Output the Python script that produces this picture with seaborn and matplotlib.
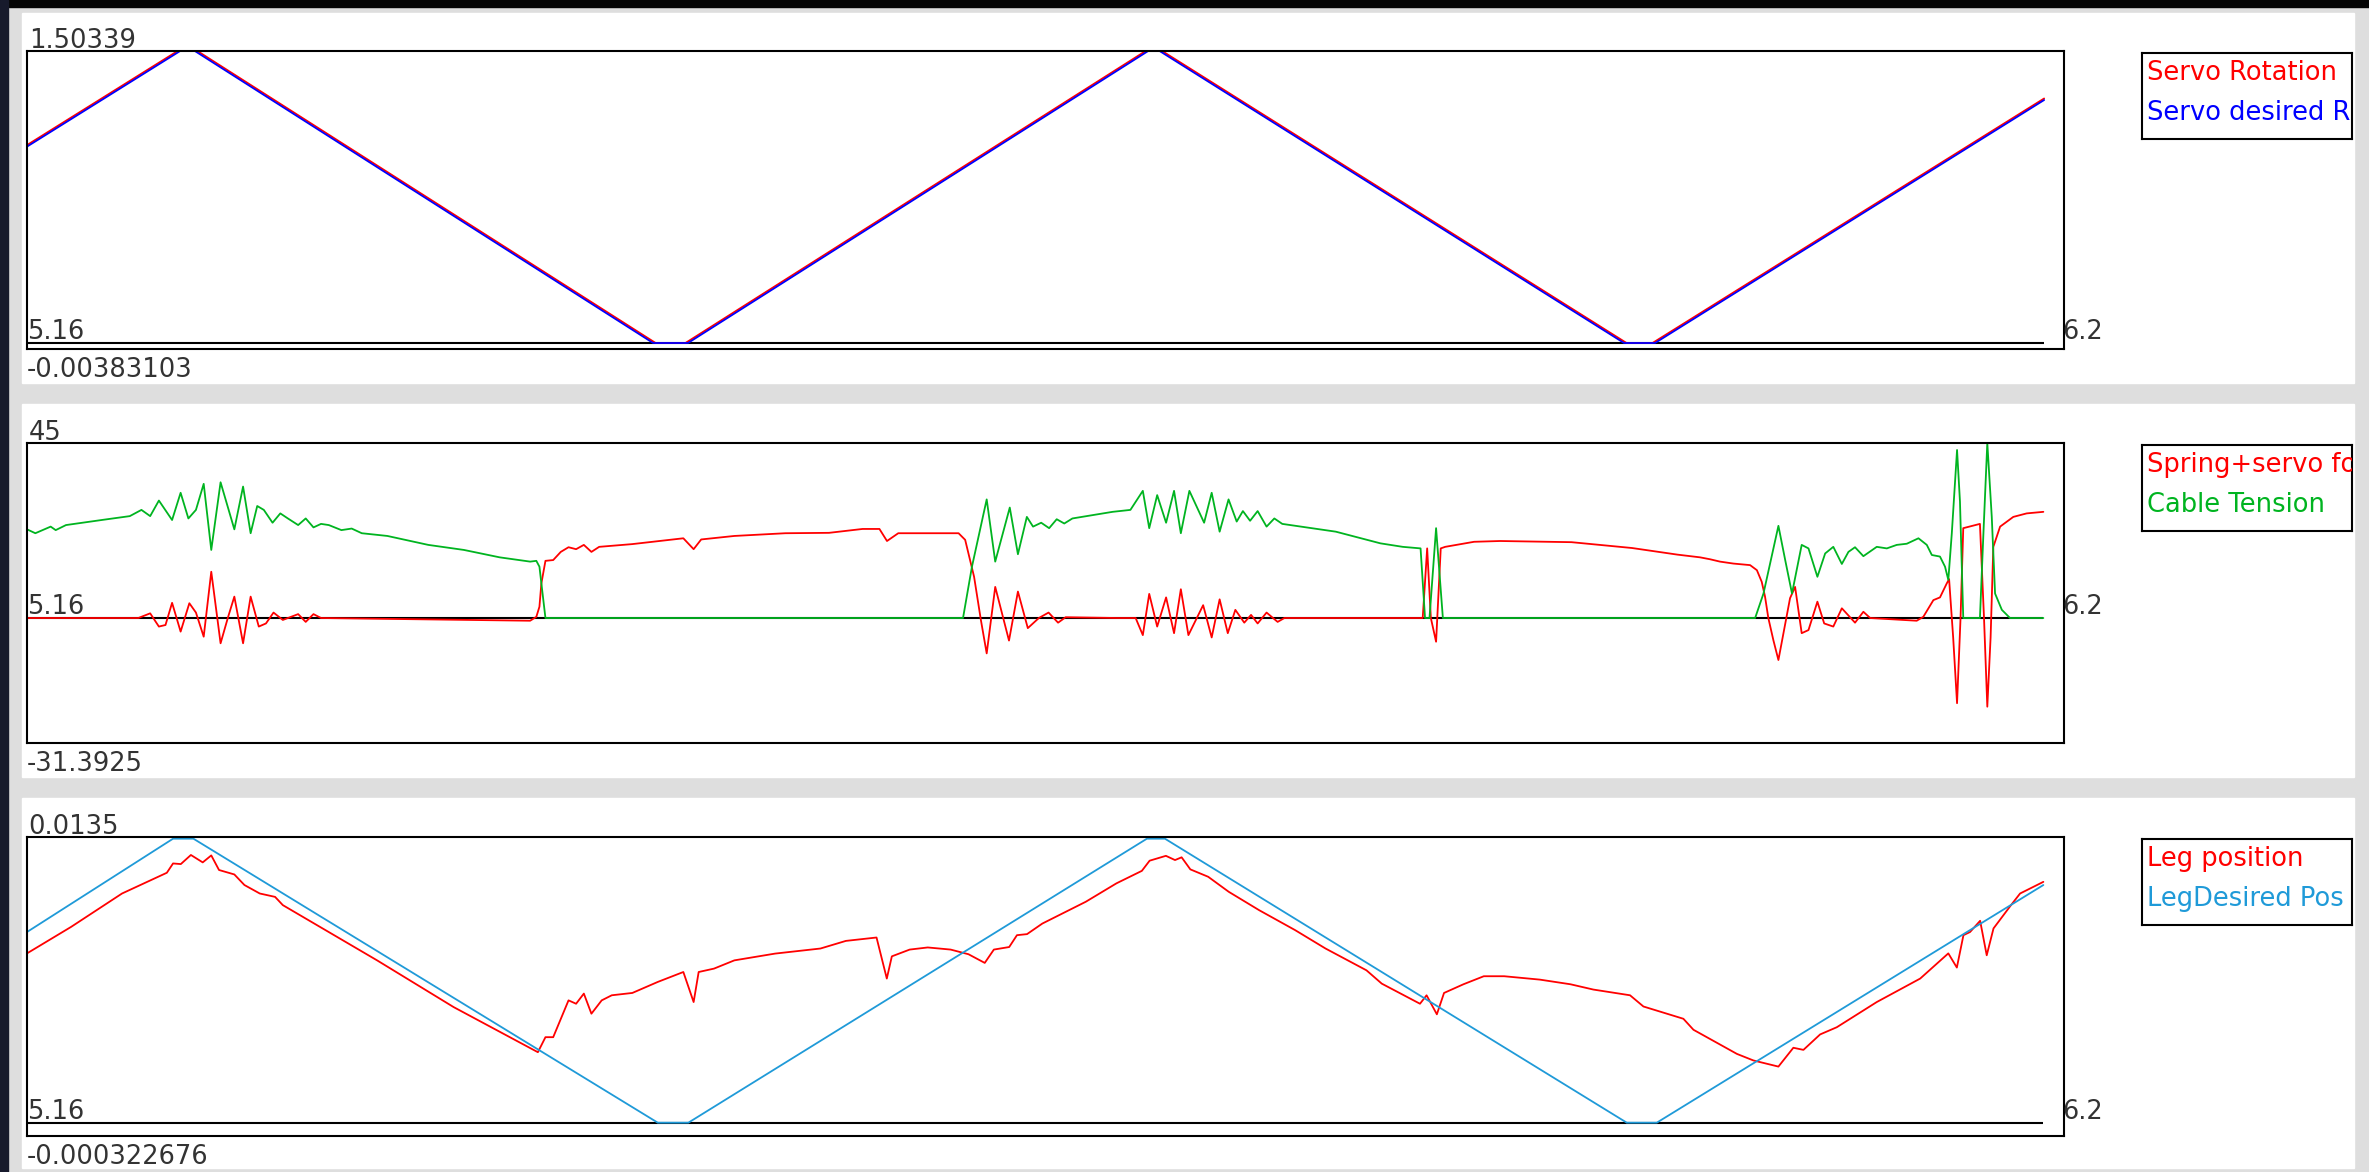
import matplotlib
matplotlib.use("Agg")
import matplotlib.pyplot as plt
from matplotlib.patches import Rectangle
import seaborn as sns

# ---- data (time in s) ----
# panel 1: servo rotation
servo_rot_t = [5.1600, 5.2376, 5.2479, 5.4841, 5.4995, 5.7367, 5.7453, 5.9847, 5.9981, 6.2000]
servo_rot = [1.019, 1.503, 1.503, 0.0, 0.0, 1.503, 1.503, 0.0, 0.0, 1.259]
servo_des_t = [5.1600, 5.2389, 5.2466, 5.4828, 5.5008, 5.7380, 5.7440, 5.9834, 5.9994, 6.2000]
servo_des = [1.011, 1.503, 1.503, 0.0, 0.0, 1.503, 1.503, 0.0, 0.0, 1.251]

# panel 2: forces
spring_t = [5.1600, 5.2174, 5.2235, 5.2280, 5.2314, 5.2348, 5.2392, 5.2437, 5.2471, 5.2511,
            5.2550, 5.2598, 5.2637, 5.2669, 5.2714, 5.2753, 5.2795, 5.2832, 5.2871, 5.2919,
            5.2998, 5.3037, 5.3077, 5.3116, 5.4194, 5.4226, 5.4242, 5.4252, 5.4273, 5.4313,
            5.4352, 5.4392, 5.4431, 5.4471, 5.4510, 5.4550, 5.4720, 5.4984, 5.5037, 5.5076,
            5.5247, 5.5510, 5.5735, 5.5908, 5.5995, 5.6034, 5.6092, 5.6403, 5.6437, 5.6483,
            5.6518, 5.6548, 5.6592, 5.6663, 5.6709, 5.6760, 5.6817, 5.6867, 5.6916, 5.6955,
            5.7220, 5.7316, 5.7353, 5.7386, 5.7427, 5.7473, 5.7514, 5.7549, 5.7588, 5.7664,
            5.7708, 5.7749, 5.7791, 5.7830, 5.7876, 5.7911, 5.7945, 5.7991, 5.8048, 5.8083,
            5.8796, 5.8819, 5.8838, 5.8865, 5.8889, 5.8912, 5.9061, 5.9195, 5.9563, 5.9875,
            6.0109, 6.0226, 6.0278, 6.0329, 6.0398, 6.0484, 6.0519, 6.0544, 6.0561, 6.0578,
            6.0604, 6.0630, 6.0656, 6.0690, 6.0716, 6.0750, 6.0785, 6.0831, 6.0866, 6.0913,
            6.0957, 6.1025, 6.1068, 6.1103, 6.1343, 6.1377, 6.1429, 6.1463, 6.1498, 6.1510,
            6.1531, 6.1551, 6.1569, 6.1583, 6.1669, 6.1690, 6.1707, 6.1724, 6.1738, 6.1773,
            6.1841, 6.1910, 6.1996]
spring_force = [0.0, 0.0, 1.2, -2.2, -1.8, 3.9, -3.5, 3.8, 1.4, -4.8,
                11.9, -6.5, 0.3, 5.5, -6.5, 5.5, -2.2, -1.4, 1.4, -0.5,
                1.0, -1.0, 1.0, 0.0, -0.7, 0.3, 2.9, 8.9, 14.7, 14.9,
                17.0, 18.2, 17.7, 18.8, 17.0, 18.3, 19.0, 20.5, 17.7, 20.2,
                21.1, 21.8, 21.9, 22.9, 22.9, 19.8, 21.8, 21.8, 20.1, 10.6,
                -0.5, -9.1, 8.0, -5.8, 6.8, -2.6, 0.0, 1.4, -1.2, 0.2,
                0.0, 0.0, -4.4, 6.2, -2.2, 5.3, -3.9, 7.4, -4.4, 3.3,
                -5.0, 4.8, -3.9, 2.1, -1.2, 0.8, -1.4, 1.4, -1.0, 0.0,
                0.0, 17.9, 0.0, -6.1, 17.9, 18.3, 19.6, 19.8, 19.5, 18.0,
                16.3, 15.6, 15.1, 14.5, 14.0, 13.6, 12.3, 9.3, 5.5, 0.0,
                -5.7, -10.8, -3.9, 5.1, 8.0, -3.9, -3.1, 4.2, -1.4, -2.2,
                2.5, -1.2, 1.6, 0.0, -0.7, 0.3, 4.6, 5.3, 8.9, 10.0,
                -5.0, -21.9, 0.0, 23.1, 24.2, 0.0, -22.8, -5.0, 18.3, 23.5,
                26.0, 26.9, 27.3]
cable_t = [5.1600, 5.1643, 5.1722, 5.1748, 5.1801, 5.1985, 5.2130, 5.2190, 5.2235, 5.2280,
           5.2348, 5.2392, 5.2432, 5.2471, 5.2511, 5.2550, 5.2598, 5.2669, 5.2714, 5.2753,
           5.2787, 5.2821, 5.2866, 5.2906, 5.2945, 5.2998, 5.3037, 5.3077, 5.3116, 5.3156,
           5.3221, 5.3274, 5.3326, 5.3458, 5.3669, 5.3853, 5.4037, 5.4194, 5.4226, 5.4242,
           5.4252, 5.4273, 5.6426, 5.6472, 5.6548, 5.6592, 5.6667, 5.6709, 5.6755, 5.6787,
           5.6829, 5.6870, 5.6909, 5.6948, 5.6990, 5.7197, 5.7289, 5.7353, 5.7386, 5.7427,
           5.7473, 5.7514, 5.7549, 5.7593, 5.7669, 5.7708, 5.7749, 5.7795, 5.7837, 5.7869,
           5.7906, 5.7945, 5.7991, 5.8031, 5.8072, 5.8348, 5.8578, 5.8693, 5.8785, 5.8808,
           5.8831, 5.8865, 5.8900, 6.0510, 6.0553, 6.0630, 6.0665, 6.0700, 6.0750, 6.0785,
           6.0831, 6.0871, 6.0913, 6.0957, 6.0991, 6.1025, 6.1068, 6.1137, 6.1189, 6.1240,
           6.1292, 6.1352, 6.1395, 6.1421, 6.1463, 6.1489, 6.1506, 6.1524, 6.1551, 6.1566,
           6.1583, 6.1669, 6.1687, 6.1707, 6.1730, 6.1747, 6.1782, 6.1824, 6.1996]
cable_tension = [22.8, 21.8, 23.5, 22.6, 23.9, 25.2, 26.2, 27.8, 26.2, 30.2,
                 25.2, 32.2, 25.6, 27.8, 34.5, 17.5, 34.9, 22.8, 33.8, 21.8,
                 28.8, 27.8, 24.5, 26.9, 25.6, 23.9, 25.6, 23.3, 24.2, 23.9,
                 22.6, 23.0, 21.8, 21.1, 18.8, 17.5, 15.6, 14.5, 14.7, 13.2,
                 8.9, 0.0, 0.0, 13.2, 30.5, 14.5, 28.4, 16.4, 26.0, 23.5,
                 24.5, 23.1, 25.4, 24.3, 25.6, 27.3, 27.8, 32.7, 23.1, 31.6,
                 24.5, 32.7, 21.8, 32.7, 24.5, 32.2, 22.2, 30.5, 24.8, 27.5,
                 25.0, 27.5, 23.5, 25.6, 24.2, 22.2, 19.2, 18.3, 17.9, 0.0,
                 0.0, 23.1, 0.0, 0.0, 6.3, 23.7, 14.9, 6.3, 18.8, 17.9,
                 10.6, 16.6, 18.3, 13.9, 17.0, 18.2, 15.9, 18.3, 17.9, 18.8,
                 19.1, 20.5, 18.8, 16.2, 15.8, 13.2, 9.8, 21.8, 43.2, 30.0,
                 0.0, 0.0, 21.8, 45.0, 26.0, 6.3, 2.1, 0.0, 0.0]

# panel 3: leg position
leg_t = [5.1600, 5.1827, 5.2090, 5.2321, 5.2353, 5.2393, 5.2445, 5.2506, 5.2550, 5.2590,
         5.2669, 5.2721, 5.2800, 5.2879, 5.2919, 5.3405, 5.3800, 5.4234, 5.4273, 5.4313,
         5.4392, 5.4431, 5.4471, 5.4510, 5.4563, 5.4615, 5.4721, 5.4852, 5.4984, 5.5037,
         5.5063, 5.5142, 5.5247, 5.5457, 5.5691, 5.5822, 5.5980, 5.6033, 5.6059, 5.6151,
         5.6244, 5.6362, 5.6454, 5.6538, 5.6585, 5.6664, 5.6704, 5.6756, 5.6835, 5.7059,
         5.7217, 5.7348, 5.7388, 5.7472, 5.7519, 5.7553, 5.7598, 5.7690, 5.7796, 5.7953,
         5.8138, 5.8295, 5.8506, 5.8585, 5.8782, 5.8816, 5.8869, 5.8906, 5.9006, 5.9111,
         5.9216, 5.9400, 5.9558, 5.9676, 5.9865, 5.9934, 6.0140, 6.0192, 6.0416, 6.0501,
         6.0630, 6.0707, 6.0759, 6.0845, 6.0931, 6.1137, 6.1361, 6.1506, 6.1550, 6.1584,
         6.1618, 6.1670, 6.1704, 6.1739, 6.1825, 6.1876, 6.1996]
leg_pos = [0.00800, 0.00925, 0.01083, 0.01181, 0.01225, 0.01222, 0.01265, 0.01230, 0.01263, 0.01194,
           0.01173, 0.01123, 0.01083, 0.01067, 0.01028, 0.00767, 0.00546, 0.00333, 0.00404, 0.00404,
           0.00578, 0.00562, 0.00610, 0.00515, 0.00578, 0.00602, 0.00613, 0.00665, 0.00712, 0.00570,
           0.00712, 0.00728, 0.00767, 0.00799, 0.00823, 0.00859, 0.00875, 0.00681, 0.00786, 0.00818,
           0.00828, 0.00818, 0.00796, 0.00755, 0.00818, 0.00830, 0.00886, 0.00891, 0.00941, 0.01044,
           0.01131, 0.01190, 0.01238, 0.01261, 0.01241, 0.01254, 0.01197, 0.01162, 0.01091, 0.01004,
           0.00910, 0.00823, 0.00720, 0.00657, 0.00562, 0.00602, 0.00512, 0.00613, 0.00654, 0.00692,
           0.00692, 0.00676, 0.00654, 0.00629, 0.00602, 0.00549, 0.00491, 0.00439, 0.00325, 0.00294,
           0.00265, 0.00354, 0.00344, 0.00417, 0.00451, 0.00570, 0.00681, 0.00800, 0.00733, 0.00886,
           0.00901, 0.00954, 0.00791, 0.00918, 0.01023, 0.01083, 0.01138]
leg_des_t = [5.1600, 5.2353, 5.2458, 5.4852, 5.5010, 5.7374, 5.7467, 5.9848, 6.0003, 6.1996]
leg_des = [0.00901, 0.01342, 0.01342, 0.0, 0.0, 0.01342, 0.01342, 0.0, 0.0, 0.01123]

y_top_labels = ["1.50339", "45", "0.0135"]
y_bottom_labels = ["-0.00383103", "-31.3925", "-0.000322676"]
x_labels = ["5.16", "6.2"]
legend_labels = [["Servo Rotation", "Servo desired R"],
                 ["Spring+servo force", "Cable Tension"],
                 ["Leg position", "LegDesired Pos"]]

RED = "#ff0000"
BLUE = "#0000ff"
GREEN = "#00b420"
SKY = "#1f9ad8"
TXT = "#333333"

sns.set_theme(style="white")
plt.rcParams["font.family"] = ["DejaVu Sans"]
FS = 18.5

fig = plt.figure(figsize=(23.69, 11.72), dpi=100)
fig.patch.set_facecolor("#dedede")

# window chrome: dark strips, white panel backgrounds
fig.add_artist(Rectangle((0, 0.99403), 1, 0.00597, transform=fig.transFigure,
                         color="#050505", zorder=0))
fig.add_artist(Rectangle((0, 0), 0.00338, 1, transform=fig.transFigure,
                         color="#171a2c", zorder=0))
panel_boxes = [(0.67321, 0.31570), (0.33703, 0.31826), (0.00341, 0.31570)]
for b, h in panel_boxes:
    fig.add_artist(Rectangle((0.00929, b), 0.98438, h, transform=fig.transFigure,
                             color="white", zorder=0))

ax_rects = [[0.0114, 0.70222, 0.8599, 0.25427],
            [0.0114, 0.36604, 0.8599, 0.25597],
            [0.0114, 0.03097, 0.8599, 0.25487]]
leg_rects = [[0.90418, 0.8814, 0.08865, 0.07338],
             [0.90418, 0.54693, 0.08865, 0.07338],
             [0.90418, 0.21075, 0.08865, 0.07338]]
ylims = [(-0.0309, 1.50339), (-32.14, 45), (-0.000616, 0.0135)]

series = [
    [(servo_rot_t, servo_rot, RED), (servo_des_t, servo_des, BLUE)],
    [(spring_t, spring_force, RED), (cable_t, cable_tension, GREEN)],
    [(leg_t, leg_pos, RED), (leg_des_t, leg_des, SKY)],
]

for i in range(3):
    ax = fig.add_axes(ax_rects[i])
    ax.set_facecolor("none")
    t_all = series[i][0][0] + series[i][1][0]
    ax.hlines(0, min(t_all), max(t_all), color="black", linewidth=1.5, zorder=1)
    for t, v, c in series[i]:
        sns.lineplot(x=t, y=v, ax=ax, color=c, linewidth=1.3, estimator=None,
                     sort=False, legend=False, zorder=2)
    ax.set_xlim(5.16, 6.2103)
    ax.set_ylim(*ylims[i])
    ax.set_xticks([])
    ax.set_yticks([])
    ax.set_xlabel("")
    ax.set_ylabel("")
    for s in ax.spines.values():
        s.set_visible(True)
        s.set_color("black")
        s.set_linewidth(1.5)

    ax.annotate(y_top_labels[i], xy=(0, 1), xycoords="axes fraction",
                xytext=(1.2, 2.2), textcoords="offset points",
                va="baseline", ha="left", fontsize=FS, color=TXT)
    ax.annotate(y_bottom_labels[i], xy=(0, 0), xycoords="axes fraction",
                xytext=(0, -20.5), textcoords="offset points",
                va="baseline", ha="left", fontsize=FS, color=TXT)
    ax.annotate(x_labels[0], xy=(0, 0), xycoords=("axes fraction", "data"),
                xytext=(0, 2.8), textcoords="offset points",
                va="baseline", ha="left", fontsize=FS, color=TXT, zorder=5)
    ax.annotate(x_labels[1], xy=(1, 0), xycoords=("axes fraction", "data"),
                xytext=(-1.5, 2.8), textcoords="offset points",
                va="baseline", ha="left", fontsize=FS, color=TXT,
                annotation_clip=False)

    # legend box: labels are clipped at the frame like in the original window
    lax = fig.add_axes(leg_rects[i])
    lax.set_facecolor("white")
    lax.set_xticks([])
    lax.set_yticks([])
    for s in lax.spines.values():
        s.set_visible(True)
        s.set_color("black")
        s.set_linewidth(1.5)
    for j, lab in enumerate(legend_labels[i]):
        lax.text(0.024, [0.686, 0.221][j], lab, transform=lax.transAxes,
                 va="baseline", ha="left", fontsize=FS,
                 color=series[i][j][2], clip_on=True)

fig.savefig("out.png", dpi=100, facecolor=fig.get_facecolor())
